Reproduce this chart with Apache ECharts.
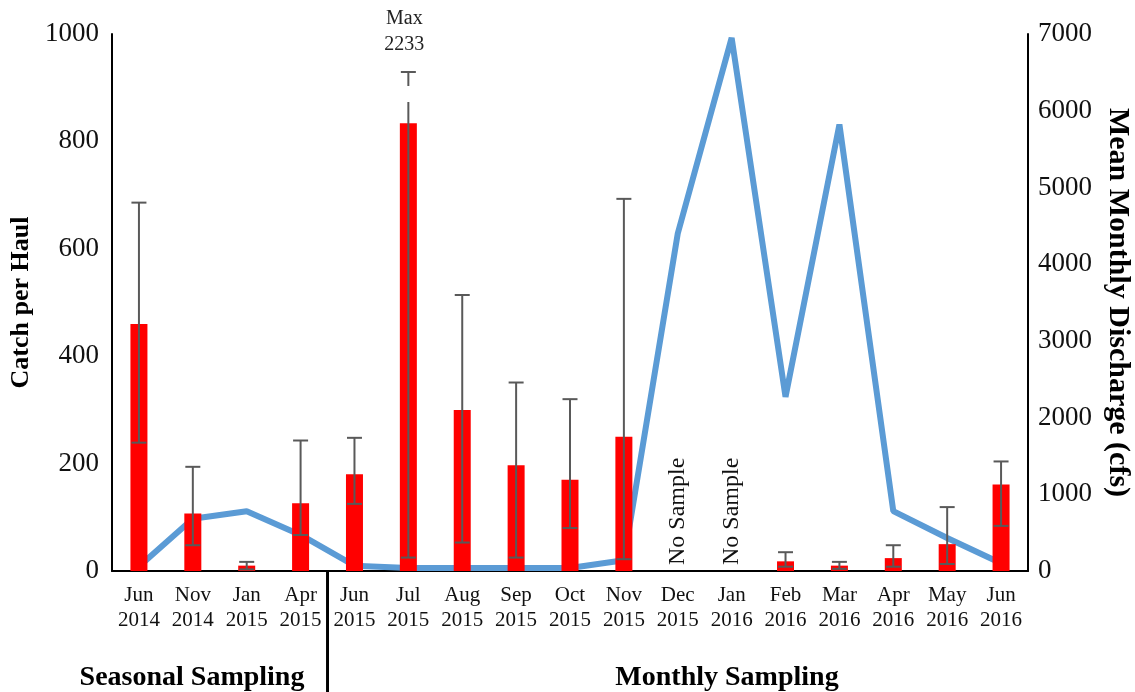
<!DOCTYPE html>
<html>
<head>
<meta charset="utf-8">
<script src="https://cdn.jsdelivr.net/npm/echarts@6/dist/echarts.min.js"></script>
<style>
  html,body{margin:0;padding:0;background:#fff;}
  #chart{width:1135px;height:692px;}
</style>
</head>
<body>
<div id="chart"></div>
<script>
// sampling months
var categories=['Jun\n2014','Nov\n2014','Jan\n2015','Apr\n2015','Jun\n2015','Jul\n2015','Aug\n2015','Sep\n2015','Oct\n2015','Nov\n2015','Dec\n2015','Jan\n2016','Feb\n2016','Mar\n2016','Apr\n2016','May\n2016','Jun\n2016'];
// catch per haul (left axis), null = no sample
var catchPerHaul=[460,107,10,126,180,834,300,197,170,250,null,null,18,10,24,50,161];
var errLow=[239,48,3,67,125,25,53,25,80,22,null,null,8,4,8,13,84];
var errHigh=[686,194,17,243,248,2233,514,351,320,693,null,null,35,17,48,119,204];
// mean monthly discharge in cfs (right axis)
var discharge=[60,680,780,470,70,40,40,40,40,140,4400,6950,2270,5820,780,430,100];
var leftTicks={min:0,max:1000,interval:200};
var rightTicks={min:0,max:7000,interval:1000};

var font="Liberation Serif";
var chart=echarts.init(document.getElementById("chart"));

var errData=[];
var noSample=[];
categories.forEach(function(c,i){
  if(catchPerHaul[i]==null) noSample.push([i,0]);
  else errData.push([i,errLow[i],errHigh[i]]);
});

function renderErr(params,api){
  var i=api.value(0), lo=api.value(1), hi=api.value(2);
  var x=api.coord([i,0])[0];
  var yLo=api.coord([i,lo])[1];
  var cap=7.5;
  var st={stroke:'#595959',lineWidth:2};
  var kids=[];
  if(hi>leftTicks.max){
    // off-scale: broken whisker with the max written above
    var top=api.coord([i,leftTicks.max])[1];
    var yCap=top+38;
    kids.push({type:'line',shape:{x1:x,y1:yLo,x2:x,y2:top+68},style:st});
    kids.push({type:'line',shape:{x1:x,y1:top+52,x2:x,y2:yCap},style:st});
    kids.push({type:'line',shape:{x1:x-cap,y1:yCap,x2:x+cap,y2:yCap},style:st});
    kids.push({type:'text',x:x-4,y:top+24,style:{text:'Max\n'+hi,fill:'#222',font:'20px "'+font+'"',align:'center',verticalAlign:'bottom',lineHeight:26}});
  }else{
    var yHi=api.coord([i,hi])[1];
    kids.push({type:'line',shape:{x1:x,y1:yLo,x2:x,y2:yHi},style:st});
    kids.push({type:'line',shape:{x1:x-cap,y1:yHi,x2:x+cap,y2:yHi},style:st});
  }
  kids.push({type:'line',shape:{x1:x-cap,y1:yLo,x2:x+cap,y2:yLo},style:st});
  return {type:'group',children:kids};
}

function renderNoSample(params,api){
  var p=api.coord([api.value(0),0]);
  return {type:'text',x:p[0],y:p[1]-6,rotation:Math.PI/2,
    style:{text:'No Sample',fill:'#111',font:'24px "'+font+'"',align:'left',verticalAlign:'middle'}};
}

function plain(v){return String(v);}

var option={
  animation:false,
  grid:{left:112,right:107,top:34,bottom:121,containLabel:false,outerBoundsMode:'none'},
  xAxis:{
    type:'category',
    data:categories,
    axisLine:{lineStyle:{color:'#000',width:2}},
    axisTick:{show:false},
    axisLabel:{color:'#111',fontFamily:font,fontSize:21,lineHeight:25,margin:12,interval:0}
  },
  yAxis:[
    {
      type:'value',min:leftTicks.min,max:leftTicks.max,interval:leftTicks.interval,
      name:'Catch per Haul',nameLocation:'middle',nameGap:70,nameRotate:90,
      nameTextStyle:{fontFamily:font,fontSize:26,fontWeight:'bold',color:'#000'},
      axisLine:{show:true,lineStyle:{color:'#000',width:2}},
      axisTick:{show:false},splitLine:{show:false},
      axisLabel:{color:'#111',fontFamily:font,fontSize:27,margin:13,formatter:plain}
    },
    {
      type:'value',position:'right',min:rightTicks.min,max:rightTicks.max,interval:rightTicks.interval,
      name:'Mean Monthly Discharge (cfs)',nameLocation:'middle',nameGap:75,nameRotate:-90,
      nameTextStyle:{fontFamily:font,fontSize:30,fontWeight:'bold',color:'#000'},
      axisLine:{show:true,lineStyle:{color:'#000',width:2}},
      axisTick:{show:false},splitLine:{show:false},
      axisLabel:{color:'#111',fontFamily:font,fontSize:27,margin:10,formatter:plain}
    }
  ],
  series:[
    {
      name:'Discharge',type:'line',yAxisIndex:1,data:discharge,
      symbol:'none',smooth:false,z:1,
      lineStyle:{color:'#5B9BD5',width:6}
    },
    {
      name:'Catch',type:'bar',yAxisIndex:0,data:catchPerHaul,
      barWidth:17,z:2,itemStyle:{color:'#FF0000'}
    },
    {
      name:'Error',type:'custom',yAxisIndex:0,data:errData,z:3,clip:false,
      renderItem:renderErr
    },
    {
      name:'No Sample',type:'custom',yAxisIndex:0,data:noSample,z:3,clip:false,
      renderItem:renderNoSample
    }
  ]
};
chart.setOption(option);

// divider between seasonal and monthly sampling + group titles
var xa=chart.convertToPixel({xAxisIndex:0},3);
var xb=chart.convertToPixel({xAxisIndex:0},4);
var xDiv=(xa+xb)/2;
var y0=chart.convertToPixel({yAxisIndex:0},0);
chart.setOption({
  graphic:[
    {type:'line',shape:{x1:xDiv,y1:y0,x2:xDiv,y2:692},style:{stroke:'#000',lineWidth:3}},
    {type:'text',x:192,y:678,style:{text:'Seasonal Sampling',font:'bold 28px "'+font+'"',fill:'#000',align:'center',verticalAlign:'middle'}},
    {type:'text',x:727,y:678,style:{text:'Monthly Sampling',font:'bold 28px "'+font+'"',fill:'#000',align:'center',verticalAlign:'middle'}}
  ]
});
</script>
</body>
</html>
